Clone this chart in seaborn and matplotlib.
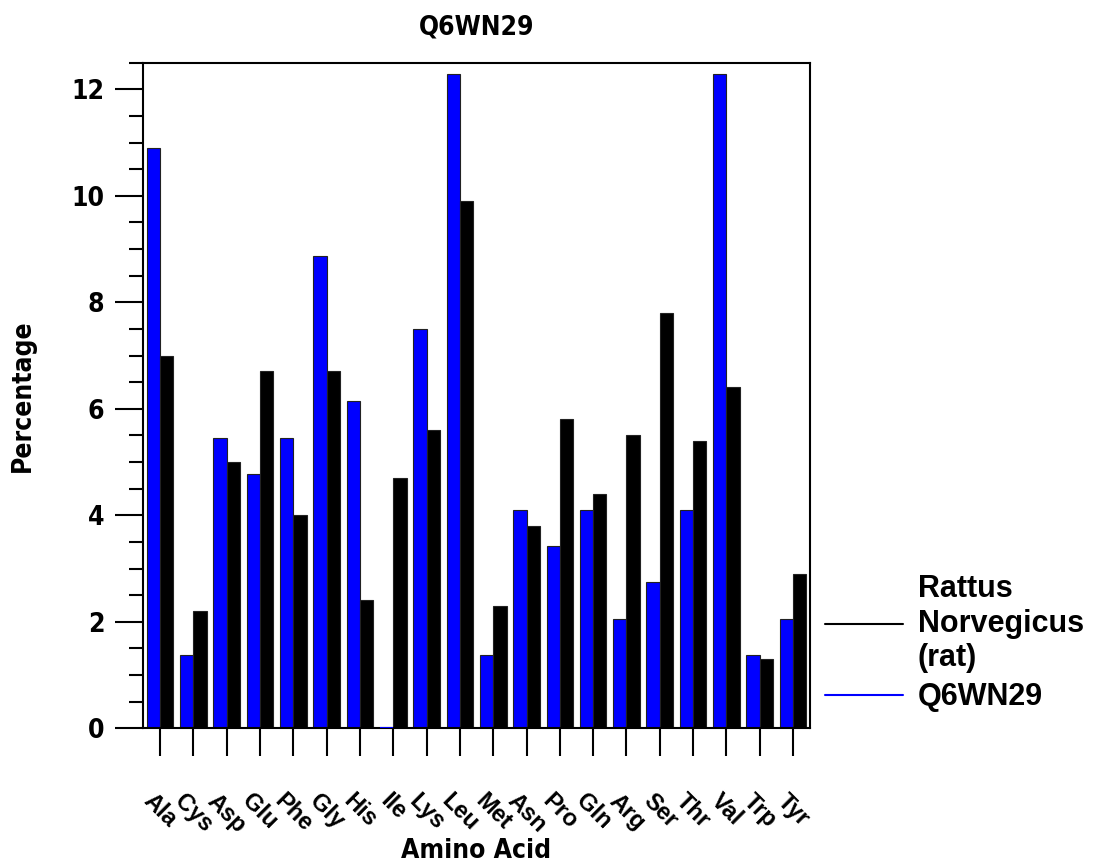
import matplotlib
matplotlib.use('Agg')
import matplotlib.pyplot as plt
from matplotlib.lines import Line2D
from matplotlib.ticker import MultipleLocator
from matplotlib import font_manager
import pandas as pd
import seaborn as sns

# data
amino_acids = ['Ala', 'Cys', 'Asp', 'Glu', 'Phe', 'Gly', 'His', 'Ile', 'Lys', 'Leu',
               'Met', 'Asn', 'Pro', 'Gln', 'Arg', 'Ser', 'Thr', 'Val', 'Trp', 'Tyr']
q6wn29 = [10.90, 1.37, 5.46, 4.78, 5.46, 8.86, 6.15, 0.0, 7.50, 12.28,
          1.37, 4.10, 3.42, 4.10, 2.05, 2.74, 4.10, 12.28, 1.37, 2.05]
rat = [7.0, 2.2, 5.0, 6.7, 4.0, 6.7, 2.4, 4.7, 5.6, 9.9,
       2.3, 3.8, 5.8, 4.4, 5.5, 7.8, 5.4, 6.4, 1.3, 2.9]
series_names = ['Q6WN29', 'Rattus\nNorvegicus\n(rat)']
series_colors = ['#0000ff', '#000000']

df = pd.DataFrame({
    'Amino Acid': amino_acids * 2,
    'Percentage': q6wn29 + rat,
    'Species': [series_names[0]] * len(amino_acids) + [series_names[1]] * len(amino_acids),
})

sns.set_style('ticks')
installed = {f.name for f in font_manager.fontManager.ttflist}
wide = 'Liberation Sans' if 'Liberation Sans' in installed else 'DejaVu Sans'
plt.rcParams['font.family'] = ['DejaVu Sans']
plt.rcParams['font.stretch'] = 'condensed'
plt.rcParams['font.weight'] = 'bold'
plt.rcParams['text.color'] = 'black'
plt.rcParams['axes.labelcolor'] = 'black'
plt.rcParams['xtick.color'] = 'black'
plt.rcParams['ytick.color'] = 'black'

fig = plt.figure(figsize=(10.98, 8.68), dpi=100)
ax = fig.add_axes([0.1305, 0.161, 0.607, 0.7668])

sns.barplot(data=df, x='Amino Acid', y='Percentage', hue='Species',
            order=amino_acids, hue_order=series_names, palette=series_colors,
            saturation=1, width=0.8, edgecolor='#222222', linewidth=0.8,
            errorbar=None, legend=False, ax=ax)

ax.set_xlim(-0.5, 19.5)
ax.set_ylim(0, 12.5)
ax.yaxis.set_major_locator(MultipleLocator(2))
ax.yaxis.set_minor_locator(MultipleLocator(0.5))

for side in ['left', 'right', 'top', 'bottom']:
    ax.spines[side].set_linewidth(1.5)
    ax.spines[side].set_color('black')

ax.tick_params(axis='y', which='major', length=20, width=1.5, pad=8,
               labelsize=19, direction='out')
ax.tick_params(axis='y', which='minor', length=10, width=1.5, direction='out')
ax.tick_params(axis='x', which='major', length=20, width=1.5, pad=24, direction='out')

for lbl in ax.get_yticklabels():
    lbl.set_fontweight('bold')
    lbl.set_fontstretch('condensed')
ax.set_xticks(range(len(amino_acids)))
ax.set_xticklabels(amino_acids, rotation=-45, ha='center',
                   fontdict=dict(family=[wide, 'DejaVu Sans'], weight='bold',
                                 size=17, stretch='normal'))

ax.set_xlabel('Amino Acid', fontsize=19, fontweight='bold', fontstretch='condensed')
ax.xaxis.set_label_coords(0.5, -0.165)
ax.set_ylabel('Percentage', fontsize=19, fontweight='bold', fontstretch='condensed')
ax.yaxis.set_label_coords(-0.161, 0.5)
ax.set_title('Q6WN29', fontsize=19, fontweight='bold', fontstretch='condensed', pad=20)

# the blue zero-height bar under Ile still shows as a thin line on the baseline
for bar in ax.patches:
    if bar.get_height() == 0:
        bar.set_edgecolor(series_colors[0])
        bar.set_linewidth(1.5)
        bar.set_zorder(3)

handles = [Line2D([], [], color=series_colors[1], lw=1.5),
           Line2D([], [], color=series_colors[0], lw=1.5)]
fig.legend(handles=handles, labels=[series_names[1], series_names[0]],
           loc='center left', bbox_to_anchor=(0.751, 0.259), frameon=False,
           prop=dict(family=[wide, 'DejaVu Sans'], weight='bold', size=22,
                     stretch='normal'),
           handlelength=2.55, handletextpad=0.5, borderpad=0, borderaxespad=0,
           labelspacing=0.3)

fig.savefig('out.png', dpi=100)
